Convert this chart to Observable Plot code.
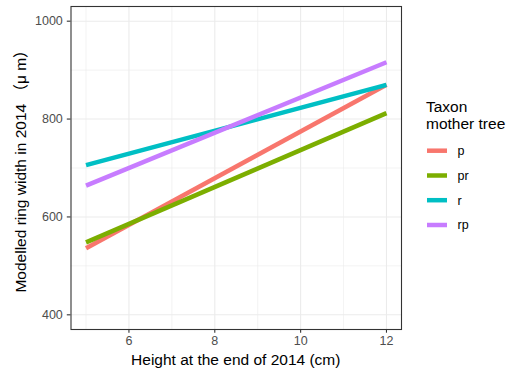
<!DOCTYPE html>
<html>
<head>
<meta charset="utf-8">
<script src="https://cdn.jsdelivr.net/npm/d3@7"></script>
<script src="https://cdn.jsdelivr.net/npm/@observablehq/plot@0.6"></script>
<style>
  html, body { margin: 0; padding: 0; background: #fff; }
  #chart svg { display: block; font-family: "Liberation Sans", Arial, Helvetica, "Noto Sans CJK SC", sans-serif; }
</style>
</head>
<body>
<div id="chart"></div>
<script>
// Data
const taxa = ["p", "pr", "r", "rp"];
const colors = ["#F8766D", "#7CAE00", "#00BFC4", "#C77CFF"];
const heights = [5, 12];
const pVals = [536, 870];
const prVals = [548, 812];
const rVals = [706, 870];
const rpVals = [664, 916];
const xTicks = [6, 8, 10, 12];
const xMinor = [5, 7, 9, 11];
const yTicks = [400, 600, 800, 1000];
const yMinor = [500, 700, 900];
const xTitle = "Height at the end of 2014 (cm)";
const yTitle = "Modelled ring width in 2014 （μ m）";
const legendTitle = ["Taxon", "mother tree"];

const series = [pVals, prVals, rVals, rpVals];
const data = [];
taxa.forEach((t, i) => heights.forEach((h, j) => data.push({taxon: t, h, w: series[i][j]})));

const W = 507, H = 372;
const mL = 70.5, mR = 106, mT = 6, mB = 43;

const chart = Plot.plot({
  width: W, height: H,
  marginLeft: mL, marginRight: mR, marginTop: mT, marginBottom: mB,
  style: {fontSize: "12px"},
  x: {domain: [4.65, 12.35]},
  y: {domain: [370, 1030]},
  color: {domain: taxa, range: colors},
  marks: [
    Plot.ruleX(xMinor, {stroke: "#EBEBEB", strokeWidth: 0.6}),
    Plot.ruleY(yMinor, {stroke: "#EBEBEB", strokeWidth: 0.6}),
    Plot.ruleX(xTicks, {stroke: "#EBEBEB", strokeWidth: 1.1}),
    Plot.ruleY(yTicks, {stroke: "#EBEBEB", strokeWidth: 1.1}),
    Plot.line(data, {x: "h", y: "w", z: "taxon", stroke: "taxon", strokeWidth: 4.5, strokeLinecap: "butt"}),
    Plot.frame({stroke: "#333333", strokeWidth: 1.1}),
    Plot.axisX(xTicks, {tickSize: 3.7, tickPadding: 3, label: null, fontSize: 12.5, tickFormat: d3.format("d")}),
    Plot.axisY(yTicks, {tickSize: 3.7, tickPadding: 4.5, label: null, fontSize: 12.5, tickFormat: d3.format("d")})
  ]
});

const svg = d3.select(chart);
svg.selectAll('[aria-label="x-axis tick"], [aria-label="y-axis tick"]').style("color", "#333333").attr("stroke", "#333333").attr("stroke-width", 1.1);
svg.selectAll('[aria-label="x-axis tick label"], [aria-label="y-axis tick label"]').style("color", "#4D4D4D").attr("fill", "#4D4D4D");

// Axis titles
svg.append("text")
  .attr("x", mL + (W - mL - mR) / 2).attr("y", 365)
  .attr("text-anchor", "middle").attr("font-size", 15.5).attr("fill", "#000")
  .text(xTitle);
svg.append("text")
  .attr("transform", `translate(26,${mT + (H - mT - mB) / 2}) rotate(-90)`)
  .attr("text-anchor", "middle").attr("font-size", 15.5).attr("fill", "#000")
  .text(yTitle);

// Legend
const lg = svg.append("g").attr("aria-label", "legend").attr("text-anchor", "start");
legendTitle.forEach((t, i) => {
  lg.append("text").attr("x", 426).attr("y", 112 + i * 16.5)
    .attr("text-anchor", "start").attr("font-size", 15.5).attr("fill", "#000").text(t);
});
const keyY = [150.7, 175.5, 200.2, 225];
taxa.forEach((t, i) => {
  lg.append("line").attr("x1", 427).attr("x2", 447).attr("y1", keyY[i]).attr("y2", keyY[i])
    .attr("stroke", colors[i]).attr("stroke-width", 4.5);
  lg.append("text").attr("x", 457.5).attr("y", keyY[i]).attr("dy", "0.35em")
    .attr("text-anchor", "start").attr("font-size", 12.5).attr("fill", "#000").text(t);
});

document.getElementById("chart").appendChild(chart);
</script>
</body>
</html>
